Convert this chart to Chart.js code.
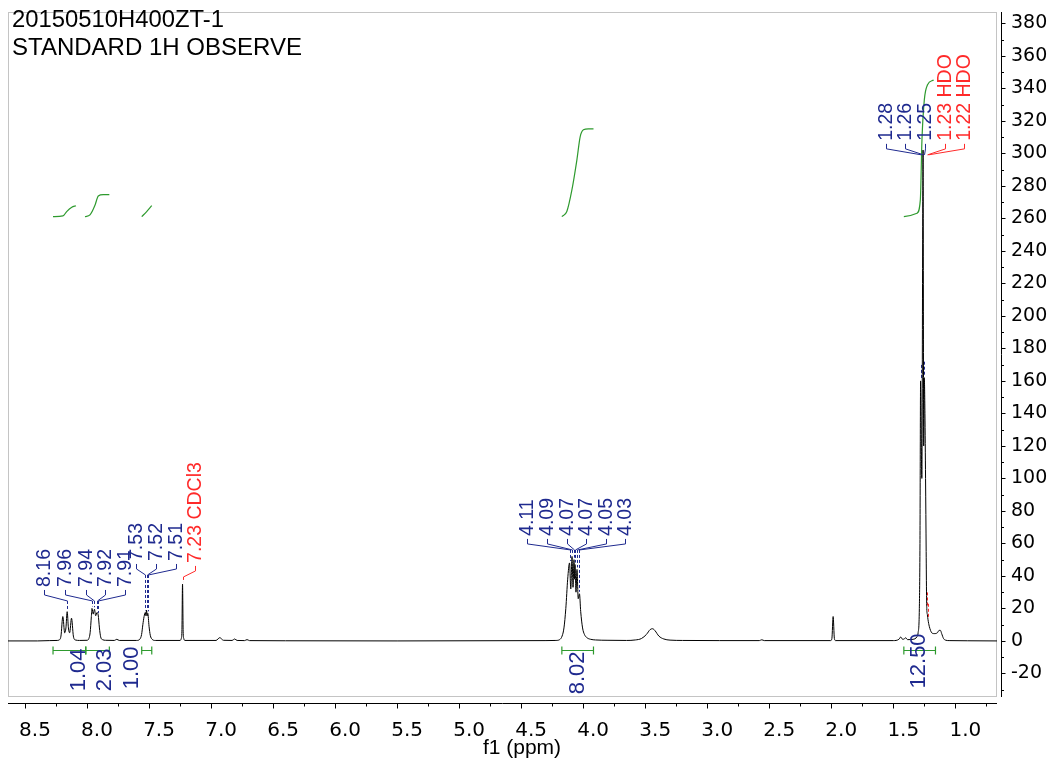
<!DOCTYPE html>
<html>
<head>
<meta charset="utf-8">
<script src="https://cdn.jsdelivr.net/npm/chart.js@4.4.1/dist/chart.umd.min.js"></script>
<style>
  html, body { margin: 0; padding: 0; background: #fff; }
  canvas { display: block; }
</style>
</head>
<body>
<canvas id="nmr" width="1054" height="760"></canvas>
<script>
// ---- 1H spectrum (chemical shift in ppm, intensity) ----
const specPpm = [
  8.637, 8.40, 8.30, 8.24, 8.225, 8.21, 8.195, 8.18, 8.17, 8.16, 8.15, 8.14, 8.125, 8.11, 8.095, 8.06,
  8.00, 7.985, 7.975, 7.965, 7.96, 7.95, 7.94, 7.93, 7.92, 7.91, 7.90, 7.89, 7.875, 7.85,
  7.78, 7.76, 7.74, 7.60, 7.575, 7.56, 7.55, 7.54, 7.53, 7.525, 7.52, 7.515, 7.51, 7.50, 7.49, 7.475, 7.45,
  7.25, 7.24, 7.235, 7.23, 7.225, 7.22, 7.21,
  6.96, 6.93, 6.90, 6.83, 6.81, 6.79, 6.73, 6.71, 6.69, 6.40, 5.50,
  4.30, 4.22, 4.19, 4.17, 4.155, 4.14, 4.125, 4.11, 4.10, 4.09, 4.082, 4.074, 4.07, 4.066, 4.058, 4.05,
  4.04, 4.03, 4.02, 4.005, 3.99, 3.97, 3.94, 3.90, 3.80,
  3.65, 3.58, 3.53, 3.49, 3.46, 3.44, 3.42, 3.39, 3.35, 3.30, 3.20,
  2.90, 2.58, 2.56, 2.54, 2.005, 1.995, 1.985, 1.975, 1.965,
  1.50, 1.455, 1.44, 1.425, 1.41, 1.40, 1.385, 1.34, 1.31, 1.30, 1.29, 1.285, 1.28, 1.27, 1.26, 1.255,
  1.25, 1.245, 1.24, 1.235, 1.232, 1.23, 1.225, 1.22, 1.21, 1.20, 1.19, 1.17, 1.145, 1.13, 1.12, 1.11,
  1.095, 1.08, 1.05, 0.90, 0.664
];
const specInt = [
  0, 0, 0.2, 0.3, 0.6, 3, 15, 5, 8, 18, 8, 5, 14, 3, 0.6, 0.3,
  0.4, 1.5, 5, 15, 20, 16.5, 19.5, 15.5, 17.5, 16, 8, 2.5, 0.8, 0.4,
  0.3, 1, 0.3, 0.3, 1, 4, 10, 15, 17.5, 15.5, 19, 15.5, 17, 9, 3.5, 1, 0.3,
  0.3, 1.5, 6, 35, 6, 1.5, 0.3,
  0.3, 2, 0.4, 0.3, 1.2, 0.3, 0.2, 0.8, 0.2, 0.1, 0,
  0.2, 0.3, 0.8, 3, 8, 20, 38, 48, 32, 52, 33, 50, 38, 47, 30, 44,
  26, 29, 18, 8, 4, 2, 1, 0.6, 0.4,
  0.3, 0.6, 1.5, 4, 7, 7.5, 6.2, 3, 1.2, 0.5, 0.3,
  0.2, 0.2, 0.7, 0.2, 0.2, 1.5, 15, 1.5, 0.2,
  0.2, 1, 2.4, 1, 1.3, 2, 0.8, 1, 2.5, 5, 20, 60, 160, 100, 302, 120,
  162, 140, 100, 55, 28, 20, 16, 13, 9, 6.5, 5, 4.5, 5, 6.5, 6.5, 4.5,
  1.5, 0.5, 0.2, 0.1, 0
];

// ---- peak picking ----
const peakLabels = ['8.16', '7.96', '7.94', '7.92', '7.91', '7.53', '7.52', '7.51', '7.23 CDCl3',
  '4.11', '4.09', '4.07', '4.07', '4.05', '4.03', '1.28', '1.26', '1.25', '1.23 HDO', '1.22 HDO'];
const peakShifts = [8.16, 7.96, 7.94, 7.92, 7.91, 7.53, 7.52, 7.51, 7.23,
  4.11, 4.09, 4.074, 4.066, 4.05, 4.03, 1.28, 1.26, 1.25, 1.23, 1.22];

// ---- integration ----
const integralValues = [1.04, 2.03, 1.00, 8.02, 12.50];
const integralFrom = [8.274, 8.010, 7.559, 4.172, 1.415];
const integralTo = [8.010, 7.820, 7.478, 3.917, 1.160];
const integral1Ppm = [8.274, 8.194, 8.164, 8.123, 8.089];
const integral1Val = [261.1, 261.5, 264.2, 266.8, 267.8];
const integral2Ppm = [8.016, 7.976, 7.935, 7.909, 7.869, 7.820];
const integral2Val = [261.1, 262.2, 268.3, 273.8, 274.6, 274.6];
const integral3Ppm = [7.559, 7.519, 7.478];
const integral3Val = [261.1, 264.2, 267.8];
const integral4Ppm = [4.172, 4.132, 4.091, 4.051, 4.024, 3.998, 3.958, 3.917];
const integral4Val = [261.1, 264.2, 277.5, 295.9, 310.3, 314.5, 315.1, 315.1];
const integral5Ppm = [1.415, 1.309, 1.282, 1.269, 1.250, 1.224, 1.175];
const integral5Val = [261.1, 263.2, 271.4, 308.3, 332.9, 342.2, 345.2];

// ---- axes and titles ----
const xTickValues = [8.5, 8.0, 7.5, 7.0, 6.5, 6.0, 5.5, 5.0, 4.5, 4.0, 3.5, 3.0, 2.5, 2.0, 1.5, 1.0];
const yTickValues = [-20, 0, 20, 40, 60, 80, 100, 120, 140, 160, 180, 200, 220, 240, 260, 280, 300, 320, 340, 360, 380];
const headerLines = ['20150510H400ZT-1', 'STANDARD 1H OBSERVE'];
const axisTitle = 'f1 (ppm)';

// ---- placement of the annotation text (positions only) ----
const labelXPpm = [8.343, 8.177, 8.012, 7.851, 7.690, 7.605, 7.444, 7.283, 7.129,
  4.452, 4.290, 4.129, 3.976, 3.815, 3.661, 1.560, 1.403, 1.242, 1.081, 0.927];
const labelFootVal = [33.2, 33.2, 33.2, 33.2, 33.2, 49.2, 49.2, 49.2, 48.0,
  64.6, 64.6, 64.6, 64.6, 64.6, 64.6, 307.7, 307.7, 307.7, 307.7, 307.7];
const integralLabelPpm = [8.065, 7.859, 7.640, 4.040, 1.290];
const integralLabelVal = [-17.8, -17.8, -16.6, -19.7, -12.3];

const NAVY = '#1f2a8f';
const RED = '#ff2a2a';
const GREEN = '#2e9a2e';
const FRAME = '#c4c4c4';

function pairs(xs, ys) { return xs.map((x, i) => ({ x: x, y: ys[i] })); }
function topAt(ppm) { const i = specPpm.indexOf(ppm); return i >= 0 ? specInt[i] : 0; }

function integralSet(xs, ys) {
  return {
    data: pairs(xs, ys), showLine: true, borderColor: GREEN, borderWidth: 1.2,
    pointRadius: 0, cubicInterpolationMode: 'monotone', fill: false
  };
}

function rotatedText(ctx, text, x, y, align) {
  ctx.save();
  ctx.translate(x, y);
  ctx.rotate(-Math.PI / 2);
  ctx.textAlign = align;
  ctx.textBaseline = 'middle';
  ctx.fillText(text, 0, 0);
  ctx.restore();
}

function fitText(ctx, text, x, y, width) {
  ctx.save();
  const w = ctx.measureText(text).width;
  ctx.translate(x, y);
  ctx.scale(width / w, 1);
  ctx.fillText(text, 0, 0);
  ctx.restore();
}

const decorations = {
  id: 'decorations',
  beforeDatasetsDraw(chart) {
    const { ctx, chartArea: a, scales: { x, y } } = chart;
    ctx.save();
    // plot frame
    ctx.strokeStyle = FRAME;
    ctx.lineWidth = 1;
    ctx.strokeRect(a.left + 0.5, a.top + 0.5, a.right - a.left - 1, a.bottom - a.top - 1);
    // dashed drop lines ending just above each picked peak
    ctx.setLineDash([3, 2]);
    peakLabels.forEach((t, i) => {
      const px = Math.round(x.getPixelForValue(peakShifts[i])) + 0.5;
      const foot = y.getPixelForValue(labelFootVal[i]);
      const top = y.getPixelForValue(topAt(peakShifts[i])) - 2;
      let start = foot + 14;
      if (top - start > 60) start = top - 14;
      if (top > start) {
        ctx.strokeStyle = t.includes(' ') ? RED : NAVY;
        ctx.beginPath();
        ctx.moveTo(px, start);
        ctx.lineTo(px, top);
        ctx.stroke();
      }
    });
    ctx.restore();
  },
  afterDraw(chart) {
    const { ctx, chartArea: a, scales: { x, y } } = chart;
    ctx.save();
    ctx.lineWidth = 1;

    // axis lines and tick marks
    ctx.strokeStyle = '#000';
    const axY = a.bottom + 6.5;
    const axX = a.right + 4.5;
    ctx.beginPath();
    ctx.moveTo(a.left, axY); ctx.lineTo(a.right, axY);
    ctx.moveTo(axX, a.top); ctx.lineTo(axX, a.bottom);
    const xStep = xTickValues[0] - xTickValues[1];
    xTickValues.forEach(v => {
      [[v, 5], [v - xStep / 2, 3]].forEach(([t, len]) => {
        if (t < x.min || t > x.max) return;
        const px = Math.round(x.getPixelForValue(t)) + 0.5;
        ctx.moveTo(px, axY); ctx.lineTo(px, axY + len);
      });
    });
    const yStep = yTickValues[1] - yTickValues[0];
    yTickValues.forEach(v => {
      [[v, 4], [v - yStep / 2, 2.5]].forEach(([t, len]) => {
        if (t < y.min || t > y.max) return;
        const py = Math.round(y.getPixelForValue(t)) + 0.5;
        ctx.moveTo(axX, py); ctx.lineTo(axX + len, py);
      });
    });
    ctx.stroke();

    // peak labels with their brackets
    ctx.font = '19.5px "Liberation Sans", Arial, sans-serif';
    peakLabels.forEach((t, i) => {
      const color = t.includes(' ') ? RED : NAVY;
      const lx = Math.round(x.getPixelForValue(labelXPpm[i])) + 0.5;
      const px = Math.round(x.getPixelForValue(peakShifts[i])) + 0.5;
      const foot = y.getPixelForValue(labelFootVal[i]);
      ctx.fillStyle = color;
      rotatedText(ctx, t, lx, foot, 'left');
      ctx.strokeStyle = color;
      ctx.beginPath();
      ctx.moveTo(lx, foot + 3);
      ctx.lineTo(lx, foot + 8);
      ctx.lineTo(px, foot + 14);
      ctx.stroke();
    });

    // integration bars and values
    ctx.strokeStyle = GREEN;
    ctx.lineWidth = 1.2;
    const by = Math.round(y.getPixelForValue(-5.8)) + 0.5;
    integralValues.forEach((v, i) => {
      const x0 = x.getPixelForValue(integralFrom[i]);
      const x1 = x.getPixelForValue(integralTo[i]);
      ctx.beginPath();
      ctx.moveTo(x0, by); ctx.lineTo(x1, by);
      ctx.moveTo(x0, by - 4); ctx.lineTo(x0, by + 4);
      ctx.moveTo(x1, by - 4); ctx.lineTo(x1, by + 4);
      ctx.stroke();
    });
    ctx.fillStyle = NAVY;
    ctx.font = '22px "Liberation Sans", Arial, sans-serif';
    integralValues.forEach((v, i) => {
      rotatedText(ctx, v.toFixed(2), x.getPixelForValue(integralLabelPpm[i]),
        y.getPixelForValue(integralLabelVal[i]), 'center');
    });

    // header and axis title
    ctx.fillStyle = '#000';
    ctx.textAlign = 'left';
    ctx.textBaseline = 'alphabetic';
    ctx.font = '24px "Liberation Sans", Arial, sans-serif';
    fitText(ctx, headerLines[0], 12, 27, 212);
    fitText(ctx, headerLines[1], 12, 55, 290);
    ctx.font = '21px "Liberation Sans", Arial, sans-serif';
    ctx.textAlign = 'center';
    ctx.fillText(axisTitle, 522, 754);
    ctx.restore();
  }
};

new Chart(document.getElementById('nmr'), {
  type: 'scatter',
  data: {
    datasets: [
      {
        data: pairs(specPpm, specInt), showLine: true, borderColor: '#000', borderWidth: 1,
        pointRadius: 0, cubicInterpolationMode: 'monotone', fill: false
      },
      integralSet(integral1Ppm, integral1Val),
      integralSet(integral2Ppm, integral2Val),
      integralSet(integral3Ppm, integral3Val),
      integralSet(integral4Ppm, integral4Val),
      integralSet(integral5Ppm, integral5Val)
    ]
  },
  options: {
    responsive: false,
    animation: false,
    devicePixelRatio: 1,
    layout: { padding: { left: 8, top: 12, right: 0, bottom: 0 } },
    plugins: { legend: { display: false }, tooltip: { enabled: false } },
    scales: {
      x: {
        type: 'linear', position: 'bottom', reverse: true, min: 0.664, max: 8.637,
        grid: { display: false, drawTicks: false }, border: { display: false },
        afterBuildTicks: s => { s.ticks = xTickValues.map(v => ({ value: v })); },
        afterFit: s => { s.height = 63; s.paddingLeft = 0; s.paddingRight = 0; },
        ticks: {
          autoSkip: false, maxRotation: 0, padding: 22, labelOffset: 10, color: '#000',
          font: { family: '"DejaVu Sans", sans-serif', size: 20 },
          callback: v => Number(v).toFixed(1)
        }
      },
      y: {
        type: 'linear', position: 'right', min: -34.5, max: 387,
        grid: { display: false, drawTicks: false }, border: { display: false },
        afterBuildTicks: s => { s.ticks = yTickValues.map(v => ({ value: v })); },
        afterFit: s => { s.width = 57; s.paddingTop = 0; s.paddingBottom = 0; },
        ticks: {
          autoSkip: false, padding: 14, color: '#000',
          font: { family: '"DejaVu Sans", sans-serif', size: 19 },
          callback: v => String(v)
        }
      }
    }
  },
  plugins: [decorations]
});
</script>
</body>
</html>
